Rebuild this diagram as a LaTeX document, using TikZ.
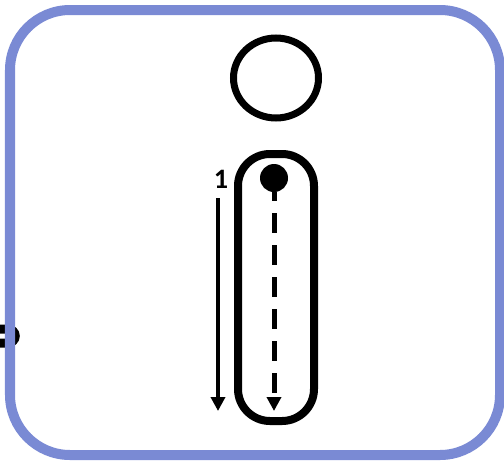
\documentclass[tikz,border=0pt]{standalone}
\usepackage{fontspec}
\setsansfont{Carlito}
\usepackage{tikz}
\usetikzlibrary{arrows.meta,shapes.geometric,positioning}
\definecolor{frameblue}{RGB}{122,138,212}
\tikzset{
    outline/.style={draw, inner sep=0pt},
    runarrow/.style={-{Triangle[length=3.5mm,width=3.5mm]}, line width=1mm}
}

\begin{document}
\begin{tikzpicture}[x=0.25mm, y=-0.25mm]
    \useasboundingbox (0,0) rectangle (504,460);
    % Piece of the neighbouring panel, cut at the left edge
    \draw[line width=2.25mm] (0,329) -- (7,329) .. controls (18,329) and (18,343) .. (7,343) -- (0,343);
    % Frame
    \draw[frameblue, line width=2.5mm, rounded corners=15mm] (10,10) rectangle (500,455);

    % Letter i: dot on top, stroke below
    \node[outline, ellipse, line width=1.75mm, minimum width=21.25mm, minimum height=20mm] (head) at (276,78) {};
    \node[outline, rectangle, rounded corners=8mm, line width=2mm, minimum width=19mm, minimum height=66.75mm] (stem) at (276,287.5) {};

    % Start point and path inside the stroke
    \node[fill, circle, minimum size=7mm, inner sep=0pt] (start) at (274,178) {};
    \coordinate (stemend) at (274,411);
    \draw[runarrow, line width=1.25mm, dash pattern=on 5mm off 3mm, dash phase=2.75mm] (start) -- (stemend);

    % Stroke order arrow with its number
    \coordinate (runtop) at (218,198);
    \coordinate (runend) at (218,411);
    \draw[runarrow] (runtop) -- (runend);
    \node[font=\sffamily\bfseries\fontsize{20}{20}\selectfont] (num) at (221,179) {1};
\end{tikzpicture}
\end{document}
